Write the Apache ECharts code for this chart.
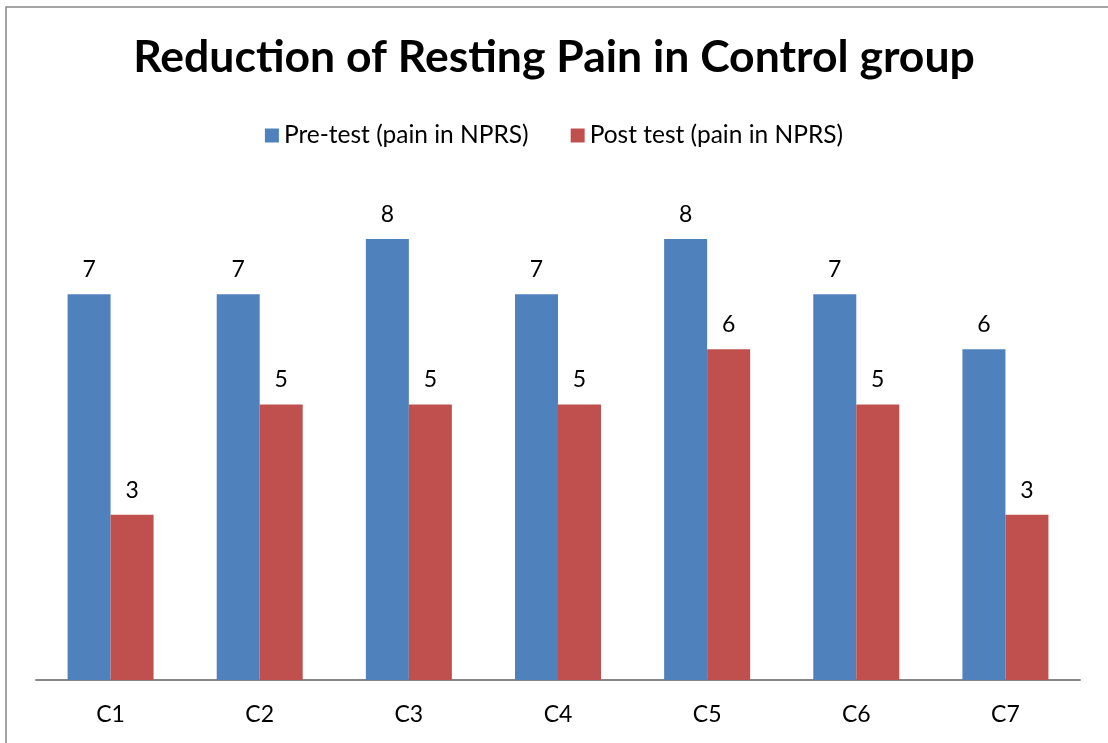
<!DOCTYPE html>
<html><head><meta charset="utf-8">
<script src="https://cdn.jsdelivr.net/npm/echarts@6/dist/echarts.min.js"></script>
<style>html,body{margin:0;padding:0;background:#fff}#c{width:1108px;height:743px}</style>
</head><body><div id="c"></div>
<script>
var categories = ['C1','C2','C3','C4','C5','C6','C7'];
var preTest = [7,7,8,7,8,7,6];
var postTest = [3,5,5,5,6,5,3];
var seriesNames = ['Pre-test (pain in NPRS)','Post test (pain in NPRS)'];
var titleText = 'Reduction of Resting Pain in Control group';

var chart = echarts.init(document.getElementById('c'));
var font = 'Lato, "Open Sans", sans-serif';
var lbl = {show:true, position:'top', distance:13, color:'#000', fontSize:23, fontFamily:font};
chart.setOption({
  animation:false,
  backgroundColor:'#fff',
  graphic:[{type:'rect', shape:{x:6,y:7,width:1200,height:800}, style:{fill:'none', stroke:'#868686', lineWidth:1.5}, silent:true}],
  title:{text:titleText, left:'center', top:30, textStyle:{fontFamily:font, fontWeight:'bold', fontSize:44.5, color:'#000'}},
  legend:{top:118, left:'center', itemWidth:14, itemHeight:14, itemGap:42, icon:'rect',
    textStyle:{fontFamily:font, fontSize:24.5, color:'#000'}, data:seriesNames},
  grid:{left:36, right:28, top:184, bottom:63},
  xAxis:{type:'category', data:categories, axisTick:{show:false},
    axisLine:{lineStyle:{color:'#868686', width:2}},
    axisLabel:{fontFamily:font, fontSize:23, color:'#000', margin:23}},
  yAxis:{type:'value', min:0, max:9, show:false, splitLine:{show:false}},
  series:[
    {name:seriesNames[0], type:'bar', data:preTest, barWidth:43, barGap:'0%', itemStyle:{color:'#4F81BD'}, label:lbl},
    {name:seriesNames[1], type:'bar', data:postTest, barWidth:43, barGap:'0%', itemStyle:{color:'#C0504D'}, label:lbl}
  ]
});
</script></body></html>
